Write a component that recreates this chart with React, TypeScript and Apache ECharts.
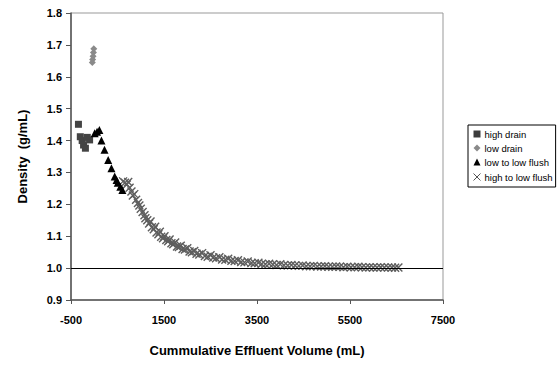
import React, { useEffect, useRef } from "react";
import * as echarts from "echarts";

const highDrain: number[][] = [
  [-340, 1.451], [-300, 1.412], [-260, 1.400], [-230, 1.386], [-190, 1.376], [-150, 1.410], [-100, 1.402],
];
const lowDrain: number[][] = [
  [-10, 1.688], [-18, 1.676], [-25, 1.664], [-35, 1.654], [-42, 1.645],
];
const lowToLowFlush: number[][] = [
  [10, 1.423], [60, 1.428], [110, 1.433], [155, 1.400], [220, 1.371], [300, 1.339], [370, 1.313],
  [440, 1.287], [480, 1.276], [505, 1.268], [560, 1.255], [605, 1.245],
];
const highToLowFlush: number[][] = [
  [620, 1.272], [660, 1.268], [700, 1.262], [730, 1.270], [760, 1.252], [800, 1.240], [830, 1.228],
  [860, 1.232], [900, 1.214], [940, 1.204], [970, 1.196], [1000, 1.186], [1040, 1.176], [1080, 1.166],
  [1100, 1.156], [1140, 1.150], [1180, 1.140], [1210, 1.146], [1240, 1.128], [1280, 1.122], [1310, 1.130],
  [1340, 1.112], [1380, 1.106], [1410, 1.114], [1440, 1.098], [1480, 1.094], [1510, 1.100], [1550, 1.088],
  [1590, 1.084], [1620, 1.090], [1660, 1.078], [1700, 1.075], [1740, 1.080], [1780, 1.068], [1820, 1.066],
  [1860, 1.070], [1900, 1.060], [1950, 1.058], [2000, 1.062], [2050, 1.052], [2100, 1.050], [2150, 1.054],
  [2200, 1.045], [2260, 1.043], [2320, 1.047], [2380, 1.038], [2440, 1.036], [2500, 1.040], [2560, 1.033],
  [2620, 1.031], [2690, 1.034], [2750, 1.027], [2820, 1.026], [2880, 1.029], [2950, 1.023], [3020, 1.022],
  [3090, 1.025], [3160, 1.019], [3230, 1.018], [3300, 1.021], [3380, 1.016], [3450, 1.015], [3530, 1.017],
  [3600, 1.013], [3680, 1.012], [3760, 1.014], [3840, 1.011], [3920, 1.010], [4000, 1.012], [4080, 1.009],
  [4160, 1.008], [4240, 1.010], [4320, 1.008], [4400, 1.007], [4480, 1.008], [4560, 1.006], [4640, 1.006],
  [4720, 1.007], [4800, 1.005], [4880, 1.005], [4960, 1.006], [5040, 1.004], [5120, 1.004], [5200, 1.005],
  [5280, 1.004], [5360, 1.003], [5440, 1.004], [5520, 1.003], [5600, 1.003], [5680, 1.004], [5760, 1.003],
  [5840, 1.002], [5920, 1.003], [6000, 1.002], [6080, 1.002], [6160, 1.003], [6240, 1.002], [6320, 1.002],
  [6400, 1.002], [6470, 1.001], [6540, 1.002],
];
const referenceDensity = 1.0;
const seriesNames = ["high drain", "low drain", "low to low flush", "high to low flush"];

const crossPath = "path://M0,0L10,10M10,0L0,10";
const font = "Arial, 'Liberation Sans', sans-serif";

export default function App() {
  const ref = useRef<HTMLDivElement>(null);
  useEffect(() => {
    if (!ref.current) return;
    const chart = echarts.init(ref.current, undefined, { renderer: "svg" });
    chart.setOption({
      animation: false,
      backgroundColor: "#fff",
      textStyle: { fontFamily: font },
      grid: {
        left: 71, top: 13, width: 372, height: 287,
        show: true, borderColor: "#999", borderWidth: 1,
      },
      xAxis: {
        type: "value", min: -500, max: 7500, interval: 2000,
        name: "Cummulative Effluent Volume (mL)", nameLocation: "middle", nameGap: 44,
        nameTextStyle: { fontFamily: font, fontWeight: "bold", fontSize: 13, color: "#000" },
        axisLine: { show: true, onZero: false, lineStyle: { color: "#555", width: 1.5 } },
        axisTick: { show: true, inside: false, length: 4, lineStyle: { color: "#555" } },
        axisLabel: {
          fontFamily: font, fontWeight: "bold", fontSize: 11, color: "#000", margin: 14,
          formatter: (v: number) => String(v),
        },
        splitLine: { show: false },
      },
      yAxis: {
        type: "value", min: 0.9, max: 1.8, interval: 0.1,
        name: "Density  (g/mL)", nameLocation: "middle", nameGap: 42, nameRotate: 90,
        nameTextStyle: { fontFamily: font, fontWeight: "bold", fontSize: 13, color: "#000" },
        axisLine: { show: true, onZero: false, lineStyle: { color: "#555", width: 1.5 } },
        axisTick: { show: true, inside: false, length: 5, lineStyle: { color: "#555" } },
        axisLabel: {
          fontFamily: font, fontWeight: "bold", fontSize: 11, color: "#000", margin: 9,
          formatter: (v: number) => v.toFixed(1),
        },
        splitLine: { show: false },
      },
      legend: {
        orient: "vertical", left: 468, top: 125,
        borderColor: "#000", borderWidth: 1, padding: [4, 3, 4, 3],
        itemGap: 4, itemWidth: 7, itemHeight: 7,
        textStyle: { fontFamily: font, fontSize: 9.5, color: "#000", padding: [0, 0, 0, -1] },
        data: [
          { name: seriesNames[0], icon: "rect", itemStyle: { color: "#3c3c3c" } },
          { name: seriesNames[1], icon: "diamond", itemStyle: { color: "#8a8a8a" } },
          { name: seriesNames[2], icon: "triangle", itemStyle: { color: "#000" } },
          { name: seriesNames[3], icon: crossPath, itemStyle: { color: "none", borderColor: "#555", borderWidth: 1 } },
        ],
      },
      series: [
        {
          name: seriesNames[3], type: "scatter", data: highToLowFlush,
          symbol: crossPath, symbolSize: 8,
          itemStyle: { color: "none", borderColor: "#5e5e5e", borderWidth: 1.4, opacity: 1 },
          markLine: {
            silent: true, symbol: "none", label: { show: false },
            lineStyle: { color: "#000", width: 1, type: "solid" },
            data: [{ yAxis: referenceDensity }],
          },
          z: 2,
        },
        {
          name: seriesNames[0], type: "scatter", data: highDrain,
          symbol: "rect", symbolSize: 7,
          itemStyle: { color: "#444", opacity: 1 }, z: 3,
        },
        {
          name: seriesNames[1], type: "scatter", data: lowDrain,
          symbol: "diamond", symbolSize: 7,
          itemStyle: { color: "#8a8a8a", opacity: 1 }, z: 3,
        },
        {
          name: seriesNames[2], type: "scatter", data: lowToLowFlush,
          symbol: "triangle", symbolSize: 8,
          itemStyle: { color: "#000", opacity: 1 }, z: 4,
        },
      ],
    });
    return () => chart.dispose();
  }, []);
  return (
    <div
      ref={ref}
      style={{ position: "absolute", left: 0, top: 0, width: 560, height: 366 }}
    />
  );
}
